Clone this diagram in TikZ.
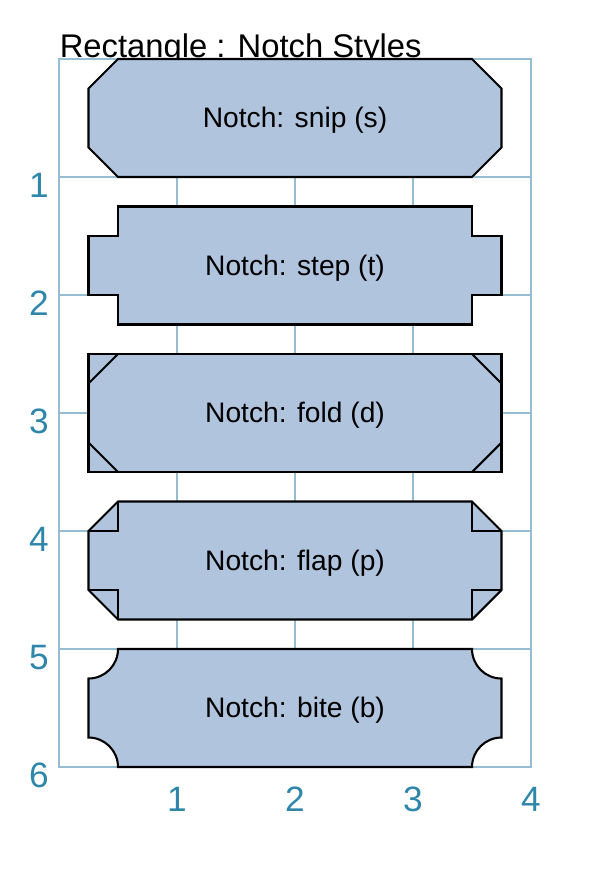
\documentclass[tikz,border=0pt]{standalone}
\usepackage{fontspec}
\setmainfont{Liberation Sans}
\definecolor{gridc}{RGB}{150,190,210}
\definecolor{labc}{RGB}{46,134,171}
\definecolor{fillc}{RGB}{176,196,222}
\begin{document}
\begin{tikzpicture}[x=1cm,y=-1cm,
  gridl/.style={draw=gridc,line width=0.3pt},
  shp/.style={draw=black,fill=fillc,line width=0.5pt,line join=miter},
  edge/.style={draw=black,line width=0.5pt},
  lab/.style={text=labc,font=\fontsize{8.5}{10}\selectfont,inner sep=0pt},
  txt/.style={font=\fontsize{6.8}{8}\selectfont,inner sep=0pt}]
\useasboundingbox (-0.5,-0.5) rectangle (4.695,6.915);
% grid
\draw[gridl] (0,0) rectangle (4,6);
\foreach \i in {1,2,3} \draw[gridl] (\i,0) -- (\i,6);
\foreach \j in {1,...,5} \draw[gridl] (0,\j) -- (4,\j);
% axis labels
\foreach \i in {1,...,4} \node[lab] (xl\i) at (\i,6.27) {\i};
\foreach \j in {1,...,6} \node[lab] (yl\j) at (-0.17,\j+0.07) {\j};
% title
\node[anchor=base west,inner sep=0pt,font=\fontsize{7.9}{9}\selectfont] (title) at (0,-0.015) {Rectangle : Notch Styles};
% snip
\path[shp] (0.5,0) -- (3.5,0) -- (3.75,0.25) -- (3.75,0.75) -- (3.5,1) -- (0.5,1) -- (0.25,0.75) -- (0.25,0.25) -- cycle;
\node[txt] (snip) at (2,0.52) {Notch: snip (s)};
% step
\path[shp] (0.5,1.25) -- (3.5,1.25) -- (3.5,1.5) -- (3.75,1.5) -- (3.75,2) -- (3.5,2) -- (3.5,2.25) -- (0.5,2.25) -- (0.5,2) -- (0.25,2) -- (0.25,1.5) -- (0.5,1.5) -- cycle;
\node[txt] (stepn) at (2,1.77) {Notch: step (t)};
% fold
\path[shp] (0.25,2.5) rectangle (3.75,3.5);
\draw[edge] (0.5,2.5) -- (0.25,2.75);
\draw[edge] (3.5,2.5) -- (3.75,2.75);
\draw[edge] (0.25,3.25) -- (0.5,3.5);
\draw[edge] (3.75,3.25) -- (3.5,3.5);
\node[txt] (fold) at (2,3.02) {Notch: fold (d)};
% flap
\path[shp] (0.5,3.75) -- (3.5,3.75) -- (3.75,4) -- (3.75,4.5) -- (3.5,4.75) -- (0.5,4.75) -- (0.25,4.5) -- (0.25,4) -- cycle;
\draw[edge] (0.5,3.75) -- (0.5,4) -- (0.25,4);
\draw[edge] (3.5,3.75) -- (3.5,4) -- (3.75,4);
\draw[edge] (0.25,4.5) -- (0.5,4.5) -- (0.5,4.75);
\draw[edge] (3.75,4.5) -- (3.5,4.5) -- (3.5,4.75);
\node[txt] (flap) at (2,4.27) {Notch: flap (p)};
% bite
\path[shp] (0.5,5) -- (3.5,5) arc[start angle=180,end angle=90,radius=0.25] -- (3.75,5.75) arc[start angle=270,end angle=180,radius=0.25] -- (0.5,6) arc[start angle=0,end angle=-90,radius=0.25] -- (0.25,5.25) arc[start angle=90,end angle=0,radius=0.25] -- cycle;
\node[txt] (bite) at (2,5.52) {Notch: bite (b)};
\end{tikzpicture}
\end{document}
